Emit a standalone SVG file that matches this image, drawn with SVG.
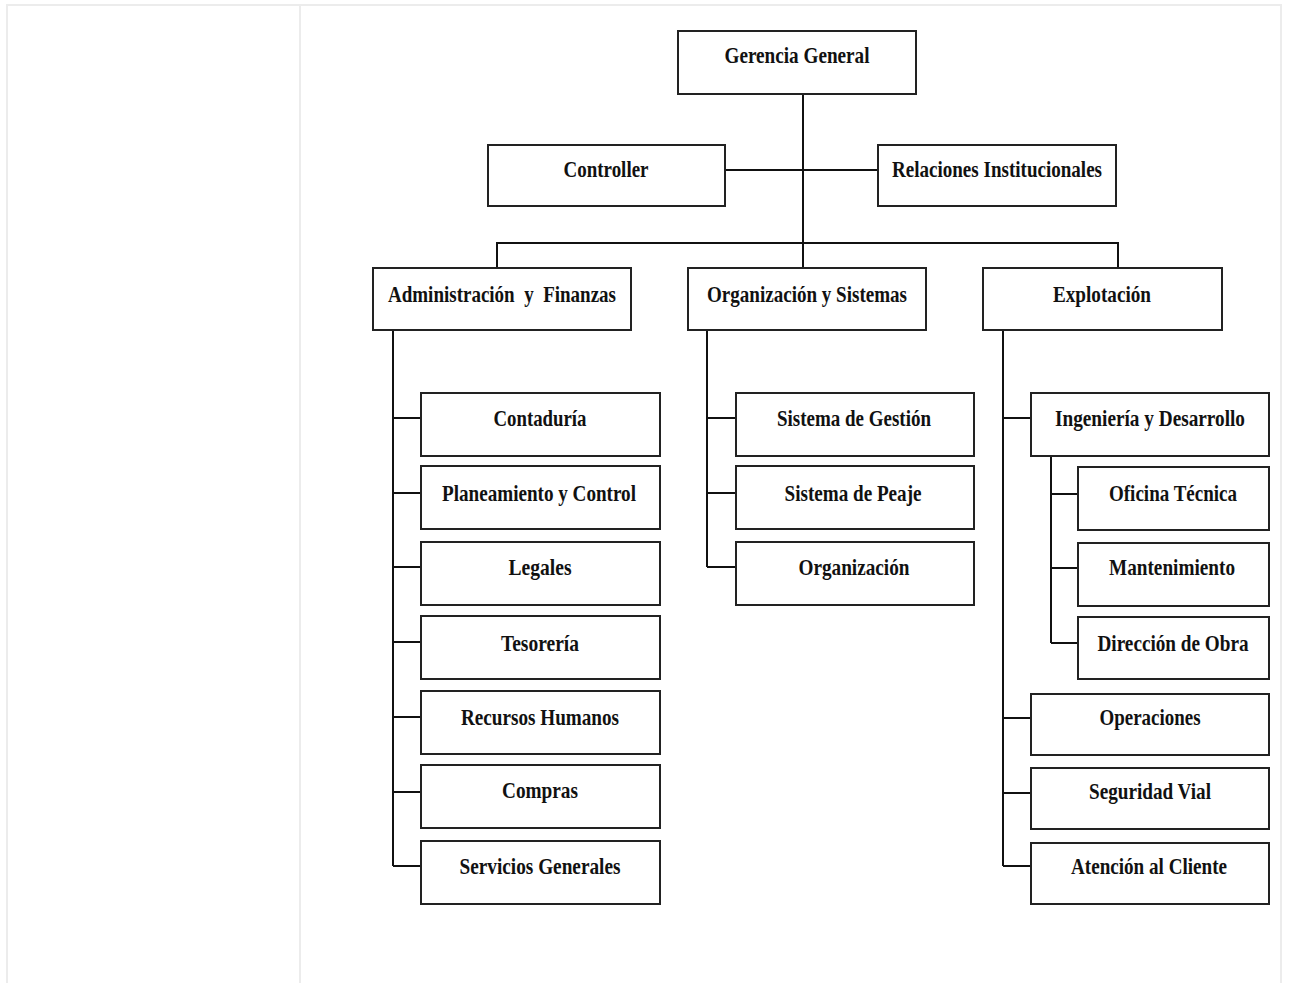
<svg xmlns="http://www.w3.org/2000/svg" width="1289" height="983" viewBox="0 0 1289 983">
<style>
.frame{fill:none;stroke:#ececec;stroke-width:2}
.box{fill:#fff;stroke:#222;stroke-width:2}
.lbl{font-family:"Liberation Serif","Times New Roman",serif;font-weight:bold;font-size:24px;fill:#111;text-anchor:middle}
.conn{fill:none;stroke:#111;stroke-width:2}
</style>
<rect width="1289" height="983" fill="#fff"/>
<g id="frame">
<path class="frame" d="M7,990 V5 H1281 V990 M300,5 V990"/>
</g>
<g id="connectors">
<path class="conn" d="M803,94 V268 M725,170 H878 M497,268 V243 H1118 V268"/>
<path class="conn" d="M393,330 V866 M393,418 H421 M393,493 H421 M393,567 H421 M393,642 H421 M393,717 H421 M393,792 H421 M393,866 H421"/>
<path class="conn" d="M707,330 V567 M707,418 H736 M707,493 H736 M707,567 H736"/>
<path class="conn" d="M1003,330 V866 M1003,418 H1031 M1003,718 H1031 M1003,793 H1031 M1003,866 H1031"/>
<path class="conn" d="M1051,456 V643 M1051,494 H1078 M1051,568 H1078 M1051,643 H1078"/>
</g>
<g id="n-gerencia"><rect class="box" x="678" y="31" width="238" height="63"/><text class="lbl" x="797" y="63" textLength="145" lengthAdjust="spacingAndGlyphs">Gerencia General</text></g>
<g id="n-controller"><rect class="box" x="488" y="145" width="237" height="61"/><text class="lbl" x="606" y="177" textLength="85" lengthAdjust="spacingAndGlyphs">Controller</text></g>
<g id="n-relaciones"><rect class="box" x="878" y="145" width="238" height="61"/><text class="lbl" x="997" y="177" textLength="210" lengthAdjust="spacingAndGlyphs">Relaciones Institucionales</text></g>
<g id="n-admin"><rect class="box" x="373" y="268" width="258" height="62"/><text class="lbl" x="502" y="302" textLength="228" lengthAdjust="spacingAndGlyphs" xml:space="preserve">Administración  y  Finanzas</text></g>
<g id="n-orgsis"><rect class="box" x="688" y="268" width="238" height="62"/><text class="lbl" x="807" y="302" textLength="200" lengthAdjust="spacingAndGlyphs">Organización y Sistemas</text></g>
<g id="n-explotacion"><rect class="box" x="983" y="268" width="239" height="62"/><text class="lbl" x="1102" y="302" textLength="98" lengthAdjust="spacingAndGlyphs">Explotación</text></g>
<g id="n-contaduria"><rect class="box" x="421" y="393" width="239" height="63"/><text class="lbl" x="540" y="426" textLength="93" lengthAdjust="spacingAndGlyphs">Contaduría</text></g>
<g id="n-planeamiento"><rect class="box" x="421" y="466" width="239" height="63"/><text class="lbl" x="539" y="501" textLength="194" lengthAdjust="spacingAndGlyphs">Planeamiento y Control</text></g>
<g id="n-legales"><rect class="box" x="421" y="542" width="239" height="63"/><text class="lbl" x="540" y="575" textLength="63" lengthAdjust="spacingAndGlyphs">Legales</text></g>
<g id="n-tesoreria"><rect class="box" x="421" y="616" width="239" height="63"/><text class="lbl" x="540" y="651" textLength="78" lengthAdjust="spacingAndGlyphs">Tesorería</text></g>
<g id="n-rrhh"><rect class="box" x="421" y="691" width="239" height="63"/><text class="lbl" x="540" y="725" textLength="158" lengthAdjust="spacingAndGlyphs">Recursos Humanos</text></g>
<g id="n-compras"><rect class="box" x="421" y="765" width="239" height="63"/><text class="lbl" x="540" y="798" textLength="76" lengthAdjust="spacingAndGlyphs">Compras</text></g>
<g id="n-servicios"><rect class="box" x="421" y="841" width="239" height="63"/><text class="lbl" x="540" y="874" textLength="161" lengthAdjust="spacingAndGlyphs">Servicios Generales</text></g>
<g id="n-gestion"><rect class="box" x="736" y="393" width="238" height="63"/><text class="lbl" x="854" y="426" textLength="154" lengthAdjust="spacingAndGlyphs">Sistema de Gestión</text></g>
<g id="n-peaje"><rect class="box" x="736" y="466" width="238" height="63"/><text class="lbl" x="853" y="501" textLength="137" lengthAdjust="spacingAndGlyphs">Sistema de Peaje</text></g>
<g id="n-organizacion"><rect class="box" x="736" y="542" width="238" height="63"/><text class="lbl" x="854" y="575" textLength="111" lengthAdjust="spacingAndGlyphs">Organización</text></g>
<g id="n-ingenieria"><rect class="box" x="1031" y="393" width="238" height="63"/><text class="lbl" x="1150" y="426" textLength="190" lengthAdjust="spacingAndGlyphs">Ingeniería y Desarrollo</text></g>
<g id="n-oficina"><rect class="box" x="1078" y="467" width="191" height="63"/><text class="lbl" x="1173" y="501" textLength="128" lengthAdjust="spacingAndGlyphs">Oficina Técnica</text></g>
<g id="n-mantenimiento"><rect class="box" x="1078" y="543" width="191" height="63"/><text class="lbl" x="1172" y="575" textLength="126" lengthAdjust="spacingAndGlyphs">Mantenimiento</text></g>
<g id="n-direccion"><rect class="box" x="1078" y="617" width="191" height="62"/><text class="lbl" x="1173" y="651" textLength="151" lengthAdjust="spacingAndGlyphs">Dirección de Obra</text></g>
<g id="n-operaciones"><rect class="box" x="1031" y="694" width="238" height="61"/><text class="lbl" x="1150" y="725" textLength="101" lengthAdjust="spacingAndGlyphs">Operaciones</text></g>
<g id="n-seguridad"><rect class="box" x="1031" y="768" width="238" height="61"/><text class="lbl" x="1150" y="799" textLength="122" lengthAdjust="spacingAndGlyphs">Seguridad Vial</text></g>
<g id="n-atencion"><rect class="box" x="1031" y="843" width="238" height="61"/><text class="lbl" x="1149" y="874" textLength="156" lengthAdjust="spacingAndGlyphs">Atención al Cliente</text></g>
</svg>
